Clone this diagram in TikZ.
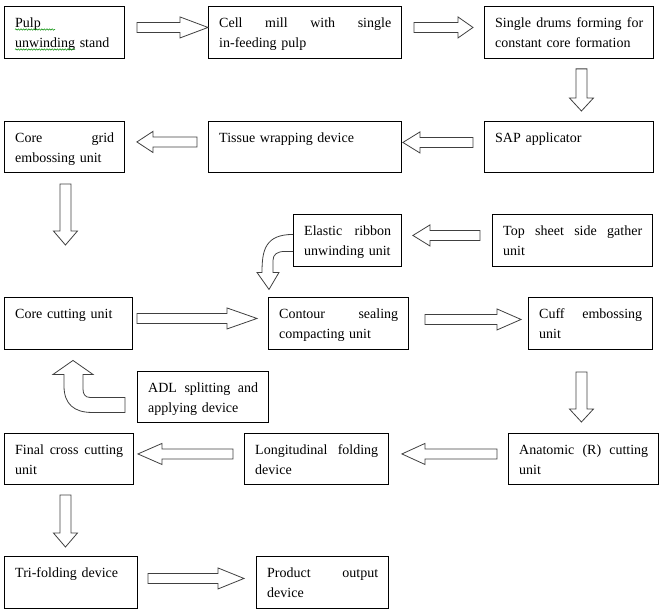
\documentclass[tikz,border=0pt]{standalone}
\usepackage{fontspec}
\setmainfont{Liberation Serif}
\usetikzlibrary{calc,decorations.pathmorphing}
\newcommand\jl[1]{\hbox to \stw pt{#1}}
\newcommand\mystrut{\rule{0pt}{14pt}}
\tikzset{
  stagebox/.style={draw=black, line width=0.9pt, inner sep=0pt},
  stagetext/.style={inner sep=0pt, font=\fontsize{14}{19.5}\selectfont},
  blockarrow/.style={draw=black!75, line width=0.8pt, line join=miter},
  spell/.style={draw=green!55!black, line width=0.5pt, decorate,
    decoration={snake, amplitude=0.7pt, segment length=2.6pt}},
}
\newcommand\stage[6]{%
  \pgfmathsetmacro\stw{#4-#2-21}%
  \node[stagebox, anchor=north west, minimum width={#4-#2}, minimum height={#5-#3}] (#1) at (#2,#3) {};
  \node[stagetext, anchor=north west, text width=\stw pt] (#1-t) at ($(#1.north west)+(11,7.5)$) {\mystrut #6};
}
\newcommand\harr[3]{%
  \draw[blockarrow] let \p1=(#1), \p2=(#2) in
  (\x1,{\y2+5pt}) -- ({\x2-(#3)*1pt},{\y2+5pt}) -- ({\x2-(#3)*1pt},{\y2+10.5pt}) -- (\x2,\y2)
  -- ({\x2-(#3)*1pt},{\y2-10.5pt}) -- ({\x2-(#3)*1pt},{\y2-5pt}) -- (\x1,{\y2-5pt}) -- cycle;}
\newcommand\varr[3]{%
  \draw[blockarrow] let \p1=(#1), \p2=(#2) in
  ({\x2-5.5pt},\y1) -- ({\x2-5.5pt},{\y2+(#3)*1pt}) -- ({\x2-12pt},{\y2+(#3)*1pt}) -- (\x2,\y2)
  -- ({\x2+12pt},{\y2+(#3)*1pt}) -- ({\x2+5.5pt},{\y2+(#3)*1pt}) -- ({\x2+5.5pt},\y1) -- cycle;}
\begin{document}
\begin{tikzpicture}[x=1pt,y=-1pt]
\useasboundingbox (0,0) rectangle (663,615);
% stages
\stage{pulp}{4}{6}{124}{58}{Pulp\par unwinding stand}
\stage{cell}{208}{6}{401}{58}{\jl{Cell\hfill mill\hfill with\hfill single}\par in-feeding pulp}
\stage{drums}{484}{6}{653}{58}{\jl{Single\hfill drums\hfill forming\hfill for}\par constant core formation}
\stage{sap}{484}{121}{653}{172}{SAP applicator}
\stage{tissue}{208}{121}{401}{172}{Tissue wrapping device}
\stage{grid}{4}{121}{124}{172}{\jl{Core\hfill grid}\par embossing unit}
\stage{elastic}{293}{214}{401}{266}{\jl{Elastic\hfill ribbon}\par unwinding unit}
\stage{top}{492}{214}{652}{266}{\jl{Top\hfill sheet\hfill side\hfill gather}\par unit}
\stage{corecut}{4}{297}{132}{349}{Core cutting unit}
\stage{contour}{268}{297}{408}{349}{\jl{Contour\hfill sealing}\par compacting unit}
\stage{cuff}{528}{297}{652}{349}{\jl{Cuff\hfill embossing}\par unit}
\stage{adl}{137}{371}{268}{422}{\jl{ADL\hfill splitting\hfill and}\par applying device}
\stage{final}{4}{433}{133}{484}{\jl{Final\hfill cross\hfill cutting}\par unit}
\stage{longit}{244}{433}{388}{484}{\jl{Longitudinal\hfill folding}\par device}
\stage{anat}{508}{433}{658}{484}{\jl{Anatomic\hfill (R)\hfill cutting}\par unit}
\stage{tri}{4}{556}{137}{608}{Tri-folding device}
\stage{product}{256}{556}{388}{608}{\jl{Product\hfill output}\par device}
% spelling underline
\draw[spell] ($(pulp.north west)+(11,23.5)$) -- ++(40,0);
\draw[spell] ($(pulp.north west)+(11,43.5)$) -- ++(60,0);
% block arrows
\harr{$(pulp.east)+(12,-5)$}{$(cell.west)+(0,-5)$}{28}
\harr{$(cell.east)+(12,-5)$}{$(drums.west)+(-11,-5)$}{15}
\varr{$(drums.south)+(12.5,10)$}{$(sap.north)+(12.5,-10)$}{13}
\harr{$(sap.west)+(-11,-4.5)$}{$(tissue.east)+(1,-4.5)$}{-17}
\harr{$(tissue.west)+(-11,-5)$}{$(grid.east)+(12,-5)$}{-16}
\varr{$(grid.south)+(1,11)$}{$(corecut.north)+(-3,-52)$}{14}
\harr{$(top.west)+(-12,-5)$}{$(elastic.east)+(11,-5)$}{-17}
\harr{$(corecut.east)+(4,-5)$}{$(contour.west)+(-11,-5)$}{30}
\harr{$(contour.east)+(16,-4)$}{$(cuff.west)+(-7,-4)$}{24}
\varr{$(cuff.south)+(-9,22)$}{$(anat.north)+(-2,-11)$}{13}
\harr{$(anat.west)+(-11,-5)$}{$(longit.east)+(13,-5)$}{-23}
\harr{$(longit.west)+(-11,-5)$}{$(final.east)+(4,-5)$}{-24}
\varr{$(final.south)+(-3.5,10)$}{$(tri.north)+(-5.5,-9)$}{14}
\harr{$(tri.east)+(10,-4)$}{$(product.west)+(-12,-4)$}{26}
% curved arrow: elastic ribbon -> contour sealing
\begin{scope}[shift={(elastic.west)}]
\draw[blockarrow] (0,-6) .. controls (-28,-6) and (-31,10) .. (-31,32) -- (-36,32) -- (-24,49)
  -- (-14,32) -- (-20,32) -- (-20,20) .. controls (-20,14) and (-16,11) .. (-8,11) -- (0,11);
\end{scope}
% curved arrow: ADL -> core cutting
\begin{scope}[shift={(adl.west)}]
\draw[blockarrow] (-12,0.5) -- (-47,0.5) .. controls (-52,0.5) and (-54,-3) .. (-54,-8) -- (-54,-22.5)
  -- (-44,-22.5) -- (-64,-36.5) -- (-84,-22.5) -- (-73,-22.5) -- (-73,-11)
  .. controls (-73,7) and (-63,15.5) .. (-45,15.5) -- (-12,15.5) -- cycle;
\end{scope}
\end{tikzpicture}
\end{document}
